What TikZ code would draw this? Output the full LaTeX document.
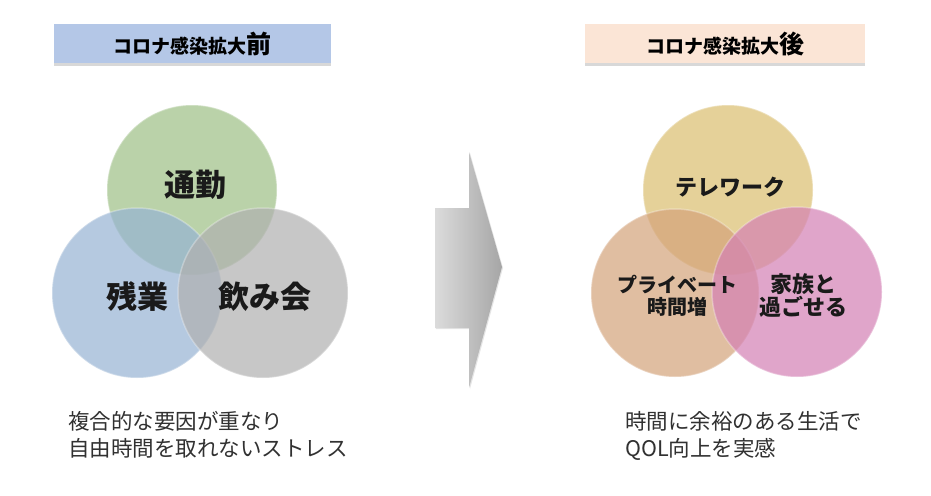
\documentclass[tikz,border=0pt]{standalone}
\usepackage{fontspec}
\newfontfamily\jp{Noto Sans CJK JP}
\usetikzlibrary{shadows}
\definecolor{hdrblue}{HTML}{B4C7E7}
\definecolor{hdrpeach}{HTML}{FBE5D6}
\definecolor{cgreen}{HTML}{9DBF85}
\definecolor{cblue}{HTML}{96B3D3}
\definecolor{cgray}{HTML}{B0B0B0}
\definecolor{cyellow}{HTML}{DABE6E}
\definecolor{cpeach}{HTML}{D4A37A}
\definecolor{cpink}{HTML}{D480B4}
\definecolor{txt}{HTML}{1A1A1A}
\tikzset{
  hdr/.style={draw=none, drop shadow={shadow xshift=0pt, shadow yshift=-3pt, opacity=0.3}},
  hdrtext/.style={font=\jp\bfseries\fontsize{19}{22}\selectfont, text=black},
  venn/.style={fill opacity=0.7, draw=white, draw opacity=0.3, line width=1.5pt},
  lbl/.style={font=\jp\bfseries\fontsize{#1}{#1}\selectfont, text=txt, align=center},
  lbl/.default=22,
  note/.style={font=\jp\fontsize{21.5}{27}\selectfont, text=txt!90, align=left, anchor=north west, inner sep=0pt}
}
\begin{document}
\begin{tikzpicture}[x=1pt,y=-1pt]
\useasboundingbox[fill=white] (0,0) rectangle (931,495);
% headers
\path[hdr, fill=hdrblue] (54,24) rectangle (331,63);
\node[hdrtext] (h1) at (192,44) {コロナ感染拡大{\fontsize{25}{25}\selectfont 前}};
\path[hdr, fill=hdrpeach] (585,24) rectangle (865,63);
\node[hdrtext] (h2) at (725,44) {コロナ感染拡大{\fontsize{25}{25}\selectfont 後}};
% left venn
\fill[venn, fill=cgreen] (192,190) circle (85);
\fill[venn, fill=cblue] (137,293) circle (85);
\fill[venn, fill=cgray] (263,293) circle (85);
\node[lbl=31] (a1) at (195,185) {通勤};
\node[lbl=31] (a2) at (137,297) {残業};
\node[lbl=31] (a3) at (265,297) {飲み会};
% arrow
\shade[left color=gray!28, right color=gray!70, drop shadow={shadow xshift=1pt, shadow yshift=-1pt, opacity=0.2}]
  (435,208) -- (469,208) -- (469,152) -- (502,267) -- (469,388) -- (469,328) -- (435,328) -- cycle;
% right venn
\fill[venn, fill=cyellow] (728,190) circle (85);
\fill[venn, fill=cpeach] (675,293) circle (84);
\fill[venn, fill=cpink] (797,292) circle (85);
\node[lbl=22] (b1) at (730,187) {テレワーク};
\node[lbl=20, text width=140pt] (b2) at (677,296) {プライベート\\[2pt]時間増};
\node[lbl=22, text width=100pt] (b3) at (803,296) {家族と\\[1pt]過ごせる};
% notes
\node[note] (n1) at (68,411) {複合的な要因が重なり\\自由時間を取れないストレス};
\node[note] (n2) at (625,411) {時間に余裕のある生活で\\QOL向上を実感};
\end{tikzpicture}
\end{document}
